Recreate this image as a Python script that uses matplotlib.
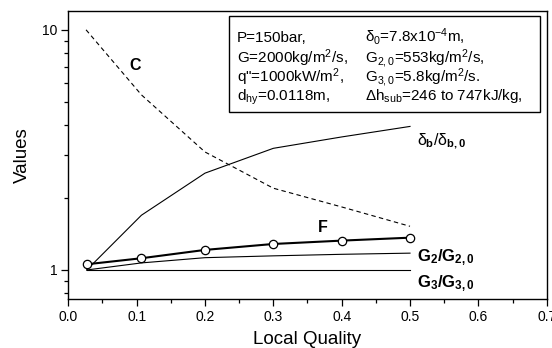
import numpy as np
import matplotlib
matplotlib.use("Agg")
import matplotlib.pyplot as plt
from matplotlib.ticker import FixedLocator, NullFormatter, MultipleLocator

plt.rcParams['font.family'] = ['Liberation Sans', 'DejaVu Sans']
plt.rcParams['mathtext.fontset'] = 'custom'
plt.rcParams['mathtext.rm'] = 'Liberation Sans'
plt.rcParams['mathtext.it'] = 'Liberation Sans'
plt.rcParams['mathtext.bf'] = 'Liberation Sans:bold'

# Data
x_c = [0.026, 0.107, 0.2, 0.3, 0.4, 0.5]
c_vals = [10.0, 5.36, 3.1, 2.19, 1.83, 1.52]

x_db = [0.027, 0.107, 0.2, 0.3, 0.4, 0.5]
db_vals = [1.0, 1.69, 2.53, 3.21, 3.58, 3.96]

x_f = [0.027, 0.107, 0.2, 0.3, 0.4, 0.5]
f_vals = [1.056, 1.119, 1.212, 1.283, 1.325, 1.363]

x_g2 = [0.027, 0.107, 0.2, 0.3, 0.4, 0.5]
g2_vals = [1.0, 1.07, 1.125, 1.145, 1.162, 1.175]

x_g3 = [0.027, 0.5]
g3_vals = [1.0, 1.0]

# Parameter box text
left_col = ['P=150bar,', 'G=2000kg/m$^2$/s,', 'q"=1000kW/m$^2$,', 'd$_{hy}$=0.0118m,']
right_col = [r'$\delta_0$=7.8x10$^{-4}$m,', 'G$_{2,0}$=553kg/m$^2$/s,',
             'G$_{3,0}$=5.8kg/m$^2$/s.', r'$\Delta$h$_{sub}$=246 to 747kJ/kg,']

fig = plt.figure(figsize=(5.52, 3.48), dpi=100)
ax = fig.add_axes([0.1237, 0.140, 0.8667, 0.829])

ax.plot(x_c, c_vals, color='black', lw=0.8, ls=(0, (4, 3)))
ax.plot(x_db, db_vals, color='black', lw=0.8)
ax.plot(x_g2, g2_vals, color='black', lw=0.8)
ax.plot(x_g3, g3_vals, color='black', lw=0.8)
ax.plot(x_f, f_vals, color='black', lw=1.5, marker='o', ms=6,
        mfc='white', mec='black', mew=0.9)

ax.set_yscale('log')
ax.set_xlim(0, 0.7)
ax.set_ylim(0.755, 12.0)
ax.xaxis.set_major_locator(MultipleLocator(0.1))
ax.xaxis.set_minor_locator(MultipleLocator(0.05))
ax.xaxis.set_major_formatter(matplotlib.ticker.FormatStrFormatter('%.1f'))
ax.yaxis.set_major_locator(FixedLocator([1, 10]))
ax.yaxis.set_minor_locator(FixedLocator([0.8, 0.9, 2, 3, 4, 5, 6, 7, 8, 9]))
ax.yaxis.set_minor_formatter(NullFormatter())
ax.set_yticklabels(['1', '10'])
ax.tick_params(which='major', direction='out', length=5, width=0.9, labelsize=10, pad=3)
ax.tick_params(which='minor', direction='out', length=3, width=0.9)
for s in ax.spines.values():
    s.set_linewidth(1.0)

ax.set_xlabel('Local Quality', fontsize=13.5, labelpad=5)
ax.set_ylabel('Values', fontsize=13.5, labelpad=8)

# curve labels
ax.text(0.098, 7.1, 'C', fontsize=11.5, fontweight='bold', ha='center', va='center')
ax.text(0.372, 1.5, 'F', fontsize=11.5, fontweight='bold', ha='center', va='center')
ax.text(0.51, 3.45, r'$\delta_\mathbf{b}$/$\delta_\mathbf{b,0}$', fontsize=11.5,
        ha='left', va='center')
ax.text(0.51, 1.12, r'$\mathbf{G_2/G_{2,0}}$', fontsize=12, ha='left', va='center')
ax.text(0.51, 0.88, r'$\mathbf{G_3/G_{3,0}}$', fontsize=12, ha='left', va='center')

# parameter box
ax.add_patch(plt.Rectangle((0.336, 0.649), 0.651, 0.333, transform=ax.transAxes,
                           fill=False, ec='black', lw=1.0))
rows_y = [0.8915, 0.8188, 0.753, 0.690]
for yy, lt, rt in zip(rows_y, left_col, right_col):
    ax.text(0.353, yy, lt, transform=ax.transAxes, fontsize=11, va='baseline')
    ax.text(0.620, yy, rt, transform=ax.transAxes, fontsize=11, va='baseline')

fig.savefig('out.png', dpi=100)
